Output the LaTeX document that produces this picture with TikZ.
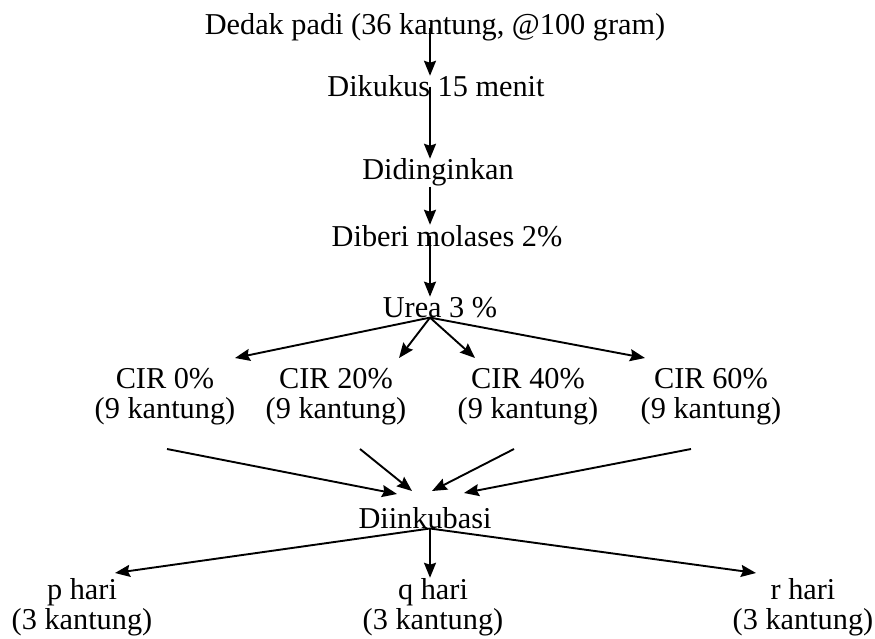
\documentclass[tikz,border=0pt]{standalone}
\usepackage{fontspec}
\setmainfont{Liberation Serif}
\usetikzlibrary{calc, arrows.meta}

\begin{document}
\begin{tikzpicture}[x=1pt, y=-1pt,
    lbl/.style={inner sep=0pt, align=center, anchor=base, font=\fontsize{30.3}{30}\selectfont},
    arr/.style={line width=1.9pt, -{Stealth[length=15pt, width=12pt, inset=2pt]}}]
    \useasboundingbox (0, 0) rectangle (875, 639);
    \coordinate (spine) at (430, 0);

    % tahap persiapan
    \node[lbl] (dedak) at (435, 35) {Dedak padi (36 kantung, @100 gram)};
    \node[lbl] (kukus) at (436, 97) {Dikukus 15 menit};
    \node[lbl] (dingin) at (438, 180) {Didinginkan};
    \node[lbl] (molases) at (447, 246) {Diberi molases 2\%};
    \node[lbl] (urea) at (440, 317) {Urea 3 \%};

    \draw[arr] (dedak.center -| spine) -- (kukus.north -| spine);
    \draw[arr] (kukus.center -| spine) -- (dingin.north -| spine);
    \draw[arr] (dingin.south -| spine) -- (molases.north -| spine);
    \draw[arr] (molases.center -| spine) -- (urea.north -| spine);

    % perlakuan CIR
    \foreach \x/\p [count=\i from 0] in {165/0, 336/20, 528/40, 711/60}
        \node[lbl] (cir\i) at (\x, 418) {CIR \p\%\\(9 kantung)};

    \coordinate (fan_urea) at (urea.south -| spine);
    \coordinate (tip_c0) at (235, 358);
    \coordinate (tip_c1) at (399, 358);
    \coordinate (tip_c2) at (475, 358);
    \coordinate (tip_c3) at (645, 358);
    \foreach \i in {0, ..., 3}
        \draw[arr] (fan_urea) -- (tip_c\i);

    % inkubasi
    \node[lbl] (inkubasi) at (425, 528) {Diinkubasi};

    \coordinate (from_c0) at (167, 449);
    \coordinate (from_c1) at (360, 449);
    \coordinate (from_c2) at (514, 449);
    \coordinate (from_c3) at (691, 449);
    \coordinate (to_c0) at (397, 494);
    \coordinate (to_c1) at (412, 491);
    \coordinate (to_c2) at (432, 491);
    \coordinate (to_c3) at (464, 493);
    \foreach \i in {0, ..., 3}
        \draw[arr] (from_c\i) -- (to_c\i);

    % lama inkubasi
    \node[lbl] (hari_p) at (82, 629) {p hari\\(3 kantung)};
    \node[lbl] (hari_q) at (433, 629) {q hari\\(3 kantung)};
    \node[lbl] (hari_r) at (803, 629) {r hari\\(3 kantung)};

    \coordinate (fan_ink) at (inkubasi.south -| spine);
    \draw[arr] (fan_ink) -- (115, 573);
    \draw[arr] (fan_ink) -- (hari_q.north -| spine);
    \draw[arr] (fan_ink) -- (756, 573);
\end{tikzpicture}
\end{document}
